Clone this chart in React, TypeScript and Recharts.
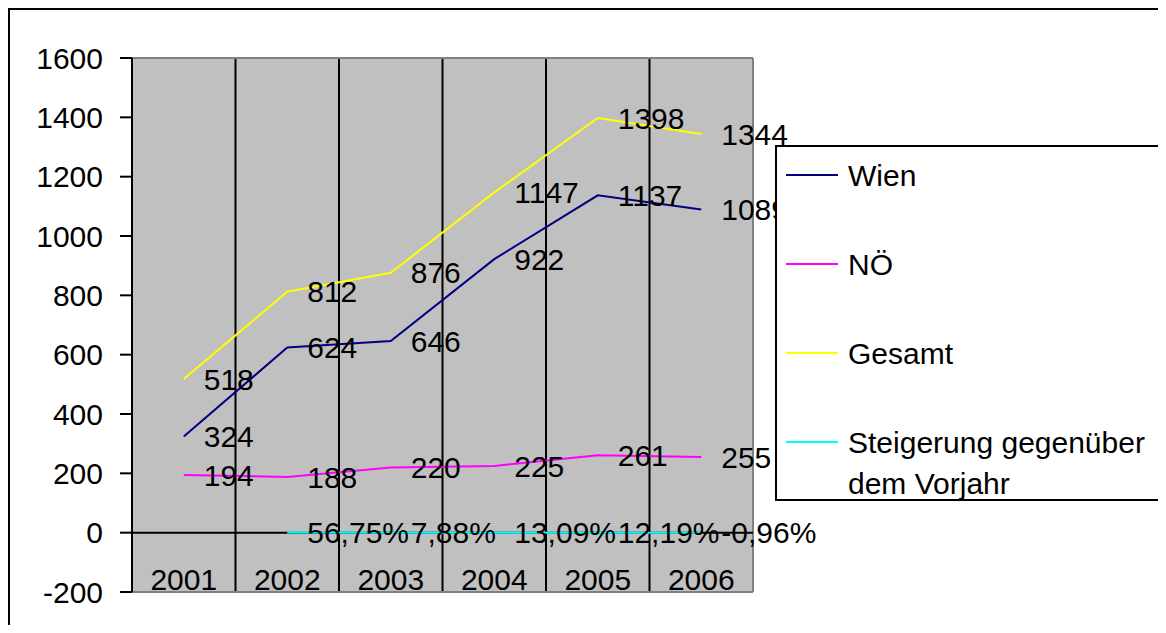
import React from 'react';
import { LineChart, Line, XAxis, YAxis, CartesianGrid, ReferenceLine, LabelList } from 'recharts';

const categories = ['2001', '2002', '2003', '2004', '2005', '2006'];
const wien = [324, 624, 646, 922, 1137, 1089];
const noe = [194, 188, 220, 225, 261, 255];
const gesamt = [518, 812, 876, 1147, 1398, 1344];
const steigerung: (number | null)[] = [null, 0.5675, 0.0788, 0.1309, 0.1219, -0.0096];
const yTicks = [-200, 0, 200, 400, 600, 800, 1000, 1200, 1400, 1600];

const seriesNames = ['Wien', 'NÖ', 'Gesamt', 'Steigerung gegenüber dem Vorjahr'];
const seriesColors = ['#000080', '#FF00FF', '#FFFF00', '#00FFFF'];

const data = categories.map((year, i) => ({
  year,
  wien: wien[i],
  noe: noe[i],
  gesamt: gesamt[i],
  steigerung: steigerung[i],
}));

const FONT = '"Liberation Sans", Arial, sans-serif';
const FS = 30;

const numLabel = (props: any) => {
  const { x, y, value } = props;
  if (value === null || value === undefined) return null;
  return (
    <text x={x + 20} y={y} dy="0.355em" fill="#000" fontSize={FS} fontFamily={FONT}>
      {String(value)}
    </text>
  );
};

const pctLabel = (props: any) => {
  const { x, y, value } = props;
  if (value === null || value === undefined) return null;
  const s = (value * 100).toFixed(2).replace('.', ',') + '%';
  return (
    <text x={x + 20} y={y} dy="0.355em" fill="#000" fontSize={FS} fontFamily={FONT}>
      {s}
    </text>
  );
};

const renderXTick = (props: any) => {
  const { x, y, payload } = props;
  return (
    <text x={x} y={y - 2} textAnchor="middle" fill="#000" fontSize={FS} fontFamily={FONT}>
      {payload.value}
    </text>
  );
};

const legendRows = [
  { top: 30, lines: ['Wien'] },
  { top: 119, lines: ['NÖ'] },
  { top: 208, lines: ['Gesamt'] },
  { top: 297, lines: ['Steigerung gegenüber', 'dem Vorjahr'] },
];

export default function App() {
  return (
    <div
      style={{
        position: 'relative',
        width: 1154,
        height: 615,
        borderTop: '2px solid #000',
        borderLeft: '2px solid #000',
        overflow: 'hidden',
        background: '#fff',
        fontFamily: FONT,
      }}
    >
      <LineChart
        width={1154}
        height={615}
        data={data}
        margin={{ top: 48, right: 411, bottom: 32, left: 0 }}
      >
        <CartesianGrid
          horizontal={false}
          fill="#C0C0C0"
          stroke="#000"
          strokeWidth={2}
          verticalCoordinatesGenerator={({ offset }: any) =>
            [1, 2, 3, 4, 5].map((i) => offset.left + (i * offset.width) / categories.length)
          }
        />
        <CartesianGrid
          fillOpacity={0}
          stroke="#808080"
          strokeWidth={2}
          horizontalCoordinatesGenerator={({ offset }: any) => [offset.top, offset.top + offset.height]}
          verticalCoordinatesGenerator={({ offset }: any) => [offset.left + offset.width]}
        />
        <XAxis
          dataKey="year"
          scale="band"
          height={1}
          tickSize={0}
          tickMargin={0}
          axisLine={false}
          tickLine={false}
          interval={0}
          tick={renderXTick}
        />
        <YAxis
          type="number"
          domain={[-200, 1600]}
          ticks={yTicks}
          interval={0}
          width={122}
          tickSize={12}
          tickMargin={17}
          axisLine={{ stroke: '#000', strokeWidth: 2 }}
          tickLine={{ stroke: '#000', strokeWidth: 2 }}
          tick={{ fill: '#000', fontSize: FS, fontFamily: FONT }}
        />
        <ReferenceLine y={0} stroke="#000" strokeWidth={2} />
        <Line type="linear" dataKey="wien" name={seriesNames[0]} stroke={seriesColors[0]} strokeWidth={2} dot={false} activeDot={false} isAnimationActive={false}>
          <LabelList dataKey="wien" content={numLabel} />
        </Line>
        <Line type="linear" dataKey="noe" name={seriesNames[1]} stroke={seriesColors[1]} strokeWidth={2} dot={false} activeDot={false} isAnimationActive={false}>
          <LabelList dataKey="noe" content={numLabel} />
        </Line>
        <Line type="linear" dataKey="gesamt" name={seriesNames[2]} stroke={seriesColors[2]} strokeWidth={2} dot={false} activeDot={false} isAnimationActive={false}>
          <LabelList dataKey="gesamt" content={numLabel} />
        </Line>
        <Line type="linear" dataKey="steigerung" name={seriesNames[3]} stroke={seriesColors[3]} strokeWidth={2} dot={false} activeDot={false} isAnimationActive={false}>
          <LabelList dataKey="steigerung" content={pctLabel} />
        </Line>
      </LineChart>
      <div
        style={{
          position: 'absolute',
          left: 765,
          top: 135,
          width: 385,
          height: 352,
          border: '2px solid #000',
          background: '#fff',
          zIndex: 5,
        }}
      >
        {legendRows.map((row, i) => (
          <div key={i} style={{ position: 'absolute', left: 0, top: row.top - 2 - 20.5, width: 380 }}>
            <div
              style={{
                position: 'absolute',
                left: 9,
                top: 19.5,
                width: 52,
                height: 2,
                background: seriesColors[i],
              }}
            />
            <div
              style={{
                position: 'absolute',
                left: 71,
                top: 0,
                fontSize: FS,
                lineHeight: '41px',
                color: '#000',
                whiteSpace: 'nowrap',
              }}
            >
              {row.lines.map((l, j) => (
                <div key={j}>{l}</div>
              ))}
            </div>
          </div>
        ))}
      </div>
    </div>
  );
}
